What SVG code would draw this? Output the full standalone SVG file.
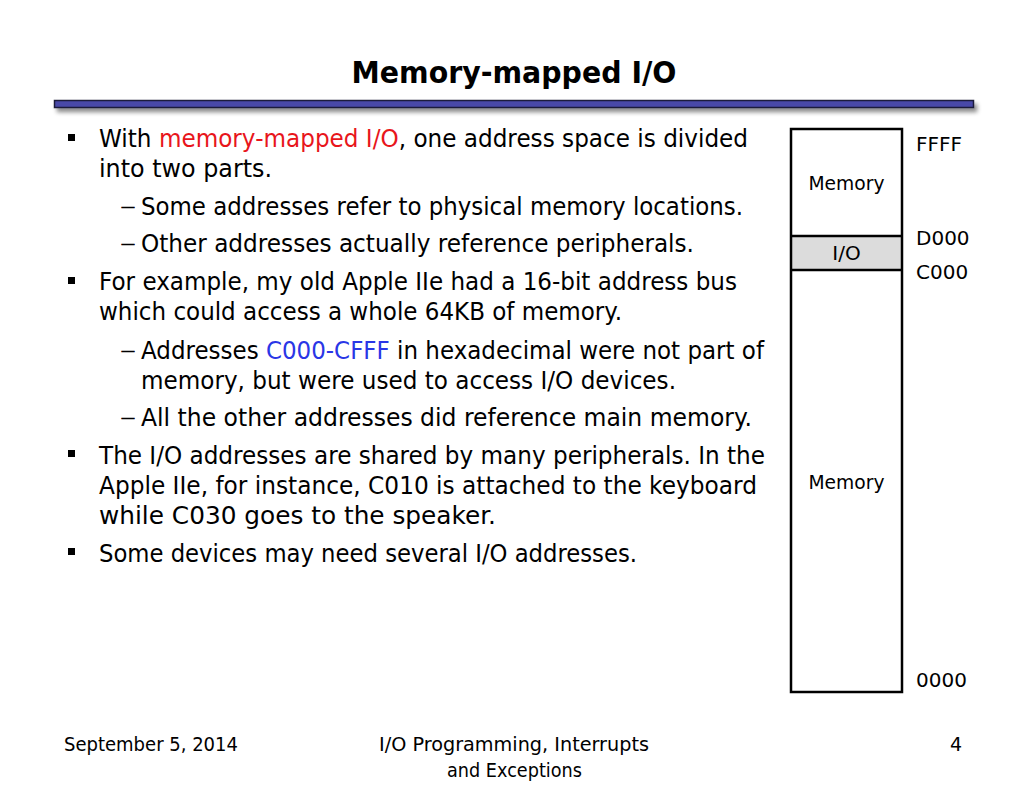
<svg xmlns="http://www.w3.org/2000/svg" width="1024" height="791" viewBox="0 0 1024 791">
<style>
.t{font-family:"DejaVu Sans",sans-serif;fill:#000}
.b{font-size:24px}
.d{font-size:14px;stroke:#000;stroke-width:0.7}
.s{font-size:20px}
.f{font-size:19px}
.red{fill:#e8151b}
.blue{fill:#2a36e6}
.box{fill:none;stroke:#000;stroke-width:2.5}
</style>
<defs>
<filter id="sh" x="-5%" y="-100%" width="110%" height="400%">
<feGaussianBlur in="SourceAlpha" stdDeviation="2"/>
<feOffset dx="3" dy="4"/>
<feComponentTransfer><feFuncA type="linear" slope="0.45"/></feComponentTransfer>
<feMerge><feMergeNode/><feMergeNode in="SourceGraphic"/></feMerge>
</filter>
</defs>
<rect width="1024" height="791" fill="#fff"/>
<g id="title">
<text class="t" x="514" y="83" font-size="31" font-weight="bold" text-anchor="middle" textLength="325" lengthAdjust="spacingAndGlyphs">Memory-mapped I/O</text>
<rect x="54.5" y="100.5" width="919" height="7" fill="#4848a8" stroke="#1a1a3a" stroke-width="1.5" filter="url(#sh)"/>
</g>
<g id="bullets">
<rect x="68" y="134" width="7" height="7"/>
<rect x="68" y="277" width="7" height="7"/>
<rect x="68" y="450" width="7" height="7"/>
<rect x="68" y="548" width="7" height="7"/>
<text class="t b" x="99" y="147" textLength="649" lengthAdjust="spacingAndGlyphs">With <tspan class="red">memory-mapped I/O</tspan>, one address space is divided</text>
<text class="t b" x="99" y="177" textLength="173" lengthAdjust="spacingAndGlyphs">into two parts.</text>
<text class="t d" x="121" y="211">—</text>
<text class="t b" x="141" y="215" textLength="602" lengthAdjust="spacingAndGlyphs">Some addresses refer to physical memory locations.</text>
<text class="t d" x="121" y="248">—</text>
<text class="t b" x="141" y="252" textLength="553" lengthAdjust="spacingAndGlyphs">Other addresses actually reference peripherals.</text>
<text class="t b" x="99" y="290" textLength="638" lengthAdjust="spacingAndGlyphs">For example, my old Apple IIe had a 16-bit address bus</text>
<text class="t b" x="99" y="320" textLength="523" lengthAdjust="spacingAndGlyphs">which could access a whole 64KB of memory.</text>
<text class="t d" x="121" y="355">—</text>
<text class="t b" x="141" y="359" textLength="623" lengthAdjust="spacingAndGlyphs">Addresses <tspan class="blue">C000-CFFF</tspan> in hexadecimal were not part of</text>
<text class="t b" x="141" y="389" textLength="535" lengthAdjust="spacingAndGlyphs">memory, but were used to access I/O devices.</text>
<text class="t d" x="121" y="422">—</text>
<text class="t b" x="141" y="426" textLength="611" lengthAdjust="spacingAndGlyphs">All the other addresses did reference main memory.</text>
<text class="t b" x="99" y="464" textLength="666" lengthAdjust="spacingAndGlyphs">The I/O addresses are shared by many peripherals. In the</text>
<text class="t b" x="99" y="494" textLength="658" lengthAdjust="spacingAndGlyphs">Apple IIe, for instance, C010 is attached to the keyboard</text>
<text class="t b" x="99" y="524" textLength="397" lengthAdjust="spacingAndGlyphs">while C030 goes to the speaker.</text>
<text class="t b" x="99" y="562" textLength="538" lengthAdjust="spacingAndGlyphs">Some devices may need several I/O addresses.</text>
</g>
<g id="memmap">
<rect x="791" y="236" width="111" height="34" fill="#dcdcdc"/>
<rect class="box" x="791" y="129" width="111" height="563"/>
<line class="box" x1="791" y1="236" x2="902" y2="236"/>
<line class="box" x1="791" y1="270" x2="902" y2="270"/>
<text class="t s" x="846.5" y="190" text-anchor="middle" textLength="76" lengthAdjust="spacingAndGlyphs">Memory</text>
<text class="t s" x="846.5" y="260" text-anchor="middle">I/O</text>
<text class="t s" x="846.5" y="489" text-anchor="middle" textLength="76" lengthAdjust="spacingAndGlyphs">Memory</text>
<text class="t s" x="916" y="151">FFFF</text>
<text class="t s" x="916" y="245">D000</text>
<text class="t s" x="916" y="279">C000</text>
<text class="t s" x="916" y="687">0000</text>
</g>
<g id="footer">
<text class="t f" x="64" y="751" textLength="174" lengthAdjust="spacingAndGlyphs">September 5, 2014</text>
<text class="t f" x="379" y="751" textLength="270" lengthAdjust="spacingAndGlyphs">I/O Programming, Interrupts</text>
<text class="t f" x="447" y="777" textLength="135" lengthAdjust="spacingAndGlyphs">and Exceptions</text>
<text class="t f" x="962" y="751" text-anchor="end">4</text>
</g>
</svg>
